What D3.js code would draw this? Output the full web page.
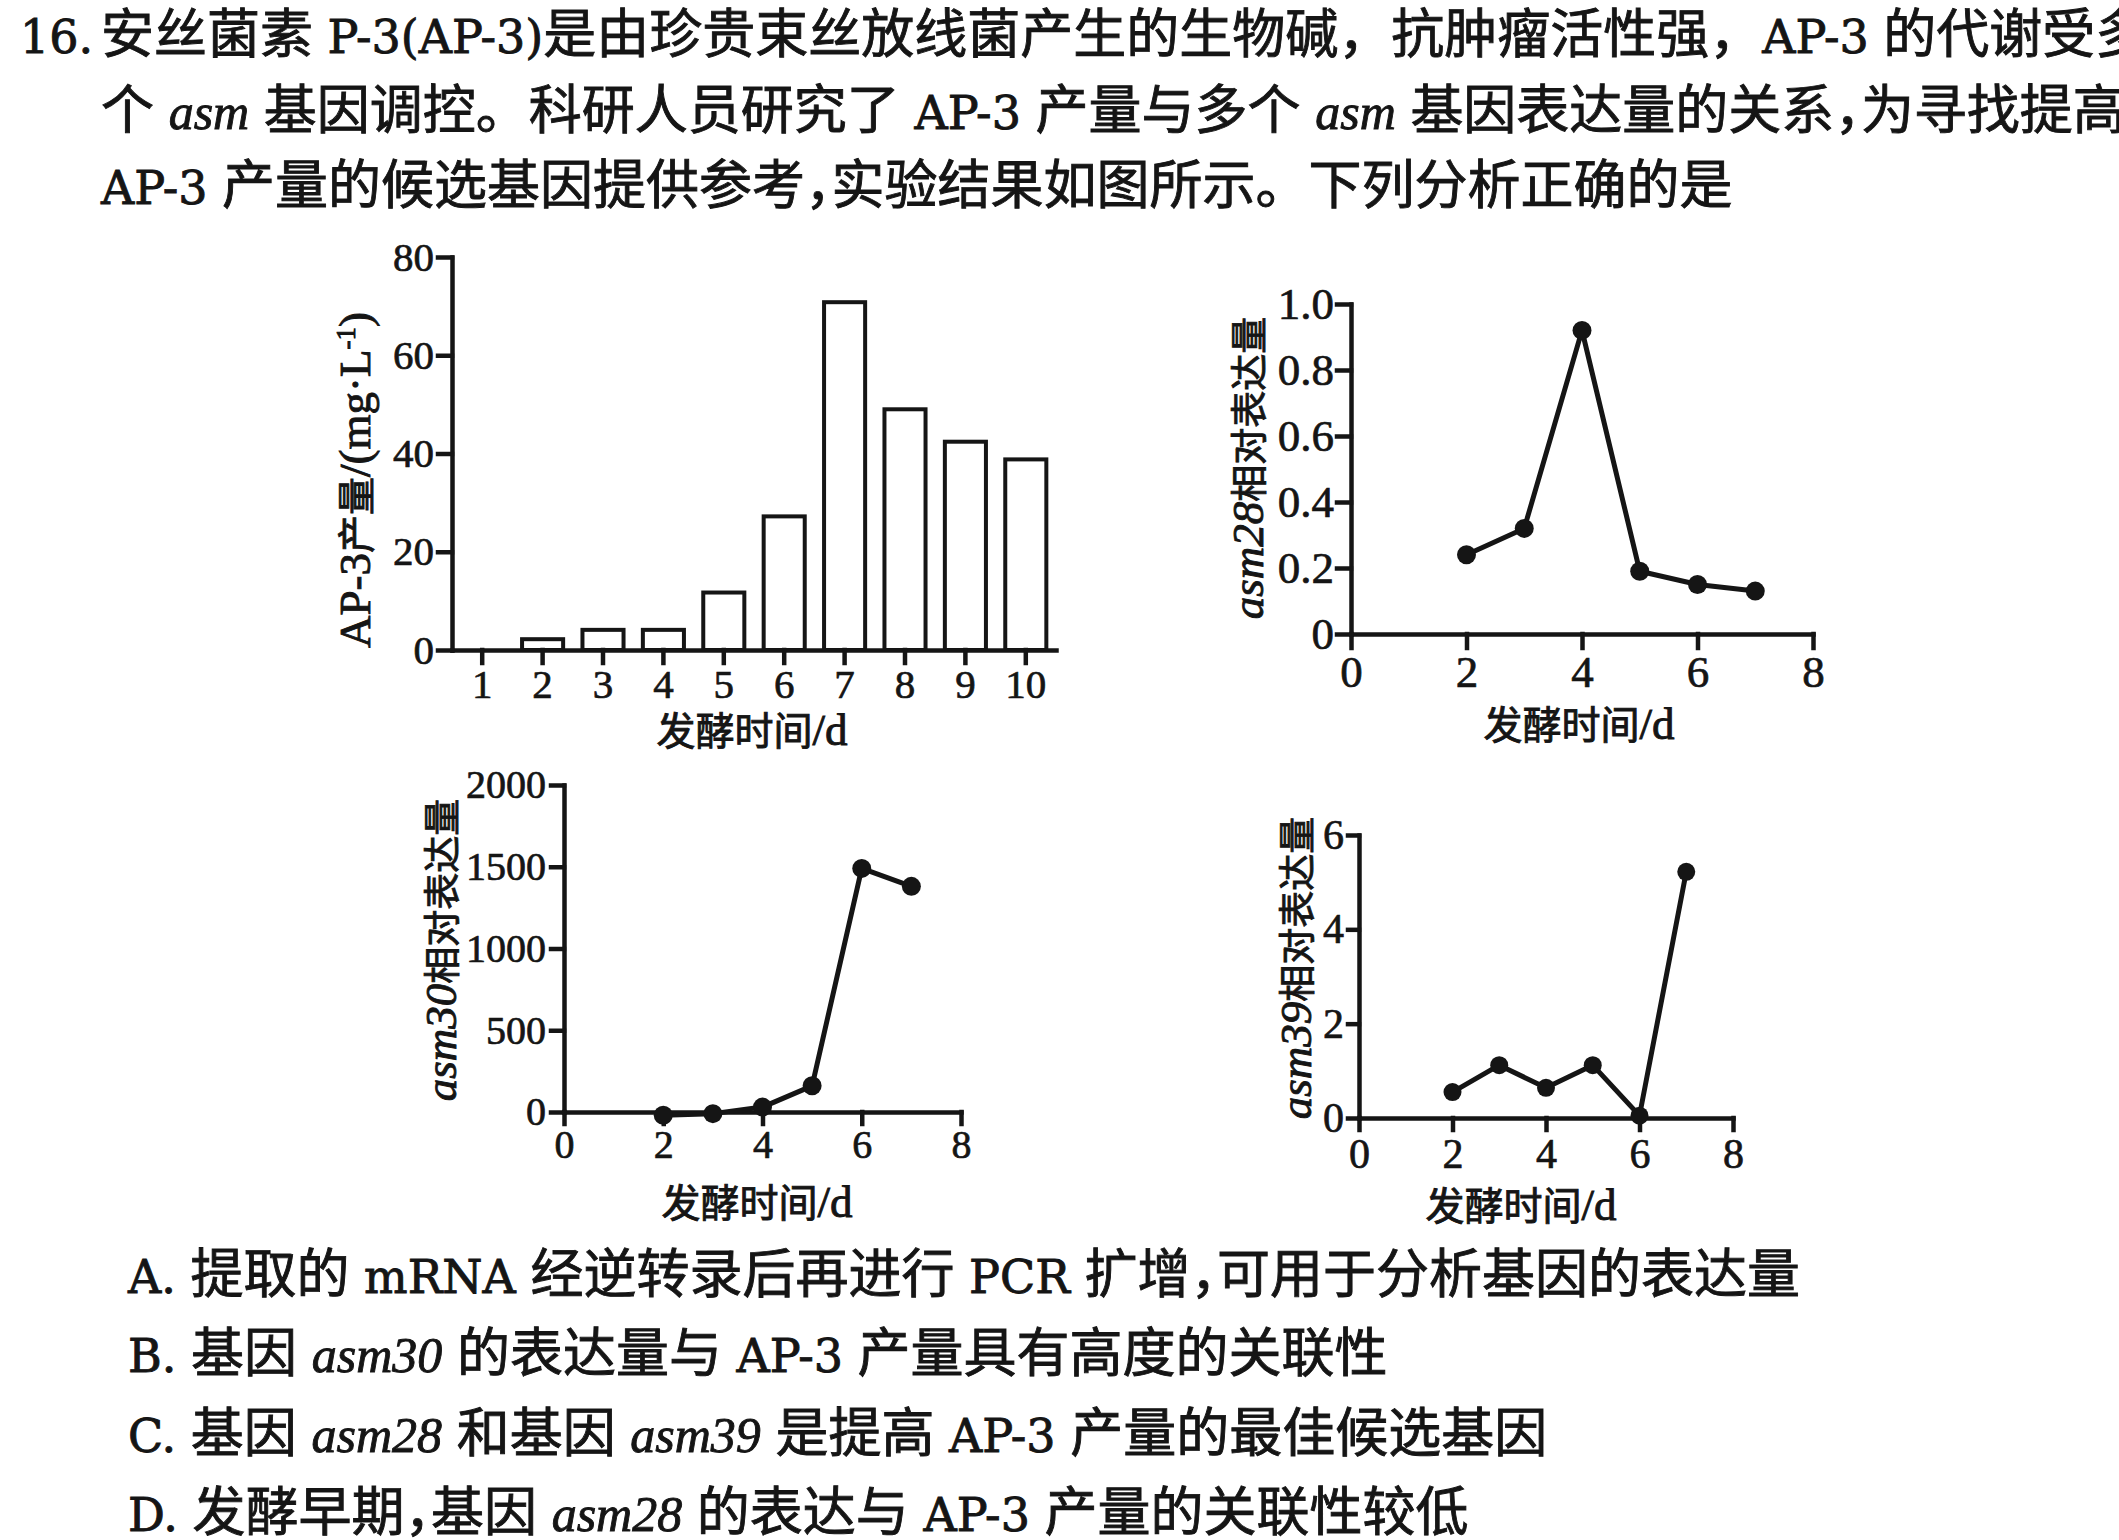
<!DOCTYPE html>
<html><head><meta charset="utf-8">
<script src="https://cdn.jsdelivr.net/npm/d3@7"></script>
<style>
html,body{margin:0;padding:0;background:#fff;}
svg{display:block;}
.axis path,.axis line{stroke:#151515;stroke-width:4.5px;stroke-linecap:square;}
.axis text{fill:#151515;stroke:#151515;stroke-width:0.7px;}
text.heavy{stroke:#151515;stroke-width:0.9px;}
</style></head><body>
<svg id="fig" width="2119" height="1540"></svg>
<script>
// ---------- data ----------
const barDays = ["1","2","3","4","5","6","7","8","9","10"];
const ap3Yield = [0, 2.2, 4.1, 4.1, 11.7, 27.2, 70.8, 49.0, 42.4, 38.8];
const barYTicks = [0, 20, 40, 60, 80];

const lineDays = [2, 3, 4, 5, 6, 7];
const asm28Expr = [0.24, 0.32, 0.92, 0.19, 0.15, 0.13];
const asm30Expr = [-20, -10, 30, 160, 1490, 1380];
const asm39Expr = [0.55, 1.12, 0.64, 1.12, 0.05, 5.22];
const lineXTicks = [0, 2, 4, 6, 8];
const asm28YTicks = [0, 0.2, 0.4, 0.6, 0.8, 1.0];
const asm28YTickLabels = ["0", "0.2", "0.4", "0.6", "0.8", "1.0"];
const asm30YTicks = [0, 500, 1000, 1500, 2000];
const asm39YTicks = [0, 2, 4, 6];

const xLabelText = "发酵时间/d";
const questionNo = "16.";
const questionLines = [
  "安丝菌素 P-3(AP-3)是由珍贵束丝放线菌产生的生物碱，抗肿瘤活性强，AP-3 的代谢受多",
  "个 *asm* 基因调控。科研人员研究了 AP-3 产量与多个 *asm* 基因表达量的关系，为寻找提高",
  "AP-3 产量的候选基因提供参考，实验结果如图所示。下列分析正确的是"
];
const optionLines = [
  "A. 提取的 mRNA 经逆转录后再进行 PCR 扩增，可用于分析基因的表达量",
  "B. 基因 *asm30* 的表达量与 AP-3 产量具有高度的关联性",
  "C. 基因 *asm28* 和基因 *asm39* 是提高 AP-3 产量的最佳候选基因",
  "D. 发酵早期，基因 *asm28* 的表达与 AP-3 产量的关联性较低"
];

// ---------- helpers ----------
const INK = "#151515";
const CJK_FONT = "'Noto Sans CJK SC'";
const svg = d3.select("#fig");

function isCJK(ch){ return /[\u3000-\u303F\u4E00-\u9FFF\uFF00-\uFFEF]/.test(ch); }

// builds tspans: CJK runs in CJK font, latin in serif font; *..* = italic
function rich(textSel, str, o){
  let italic = false, runs = [], cur = null;
  for (const ch of str){
    if (ch === "*"){ italic = !italic; cur = null; continue; }
    const cls = isCJK(ch) ? (ch === "，" ? "comma" : "cjk") : "lat";
    if (!cur || cur.cls !== cls || cur.italic !== italic){
      cur = {cls, italic, s: ""}; runs.push(cur);
    }
    cur.s += ch;
  }
  runs.forEach(r => {
    const t = textSel.append("tspan").text(r.s);
    if (r.cls === "lat"){
      if (r.italic){
        t.attr("font-family", o.itFont).attr("font-size", o.itSize).attr("font-style", "italic");
      } else {
        t.attr("font-family", o.latFont).attr("font-size", o.latSize);
      }
    } else {
      t.attr("font-family", CJK_FONT).attr("font-size", o.cjkSize);
      if (r.cls === "comma" && o.halt) t.style("font-feature-settings", "'halt'");
    }
  });
  return textSel;
}

// ---------- question text ----------
const bodyOpt = {latFont: "'DejaVu Serif'", latSize: 46, itFont: "'Liberation Serif'", itSize: 50, cjkSize: 53, halt: true};
const qBase = [53, 129, 204];
svg.append("text").attr("class", "heavy").attr("x", 20).attr("y", qBase[0]).attr("fill", INK)
  .attr("font-family", "'DejaVu Serif'").attr("font-size", 46).text(questionNo);
questionLines.forEach((s, i) => {
  rich(svg.append("text").attr("class", "heavy").attr("x", 101).attr("y", qBase[i]).attr("fill", INK), s,
    i === 0 ? Object.assign({}, bodyOpt, {halt: false}) : bodyOpt);
});
const oBase = [1293, 1372, 1452, 1531];
optionLines.forEach((s, i) => {
  rich(svg.append("text").attr("class", "heavy").attr("x", 128).attr("y", oBase[i]).attr("fill", INK), s, bodyOpt);
});

// ---------- axis styling ----------
function styleAxis(g, size){
  g.attr("class", "axis").attr("font-family", "'Liberation Serif'").attr("font-size", size);
  g.selectAll("text").attr("fill", INK);
}
function yLabel(cx, cy, build){
  const t = svg.append("text").attr("class", "heavy").attr("transform", `translate(${cx},${cy}) rotate(-90)`)
    .attr("text-anchor", "middle").attr("dy", "0.36em").attr("fill", INK);
  build(t);
}
function xLabel(cx, baseY){
  const t = svg.append("text").attr("class", "heavy").attr("x", cx).attr("y", baseY)
    .attr("text-anchor", "middle").attr("fill", INK);
  rich(t, xLabelText, {latFont: "'Liberation Serif'", latSize: 45, itFont: "'Liberation Serif'", itSize: 45, cjkSize: 39});
}

// ---------- bar chart ----------
(function(){
  const x = d3.scaleBand().domain(barDays).range([452, 1056]).paddingInner(0.32).paddingOuter(0.16);
  const y = d3.scaleLinear().domain([0, 80]).range([650, 257]);
  const g = svg.append("g");
  g.selectAll("rect").data(ap3Yield).join("rect")
    .attr("x", (d, i) => x(barDays[i]))
    .attr("width", x.bandwidth())
    .attr("y", d => y(d))
    .attr("height", d => y(0) - y(d))
    .attr("fill", "#fff").attr("stroke", INK).attr("stroke-width", 4);
  const ax = svg.append("g").attr("transform", `translate(0,${y(0)})`)
    .call(d3.axisBottom(x).tickSizeInner(13).tickSizeOuter(0).tickPadding(6));
  styleAxis(ax, 41);
  const ay = svg.append("g").attr("transform", `translate(${x.range()[0]},0)`)
    .call(d3.axisLeft(y).tickValues(barYTicks).tickSizeInner(14).tickSizeOuter(0).tickPadding(4));
  styleAxis(ay, 41);
  yLabel(364, 480, t => {
    t.append("tspan").attr("font-family", "'Liberation Serif'").attr("font-size", 45).text("AP-3");
    t.append("tspan").attr("font-family", CJK_FONT).attr("font-size", 38).text("产量");
    t.append("tspan").attr("font-family", "'Liberation Serif'").attr("font-size", 45).text("/(mg·L");
    t.append("tspan").attr("font-family", "'Liberation Serif'").attr("font-size", 27).attr("dy", "-0.55em").text("-1");
    t.append("tspan").attr("font-family", "'Liberation Serif'").attr("font-size", 45).attr("dy", "0.33em").text(")");
  });
  xLabel(752, 745);
})();

// ---------- line charts ----------
function lineChart(cfg){
  const x = d3.scaleLinear().domain([0, 8]).range(cfg.xr);
  const y = d3.scaleLinear().domain(cfg.yd).range(cfg.yr);
  const ax = svg.append("g").attr("transform", `translate(0,${y(0)})`)
    .call(d3.axisBottom(x).tickValues(lineXTicks).tickFormat(d3.format("d"))
      .tickSizeInner(cfg.xTick).tickSizeOuter(0).tickPadding(cfg.xPad));
  styleAxis(ax, cfg.font);
  const ay = svg.append("g").attr("transform", `translate(${x(0)},0)`)
    .call(d3.axisLeft(y).tickValues(cfg.yTicks)
      .tickFormat((d, i) => cfg.yLabels ? cfg.yLabels[i] : d3.format("d")(d))
      .tickSizeInner(cfg.yTick).tickSizeOuter(0).tickPadding(cfg.yPad));
  styleAxis(ay, cfg.font);
  const line = d3.line().x((d, i) => x(lineDays[i])).y(d => y(d));
  svg.append("path").datum(cfg.values).attr("d", line)
    .attr("fill", "none").attr("stroke", INK).attr("stroke-width", 5).attr("stroke-linejoin", "round");
  svg.append("g").selectAll("circle").data(cfg.values).join("circle")
    .attr("cx", (d, i) => x(lineDays[i])).attr("cy", d => y(d)).attr("r", cfg.r).attr("fill", INK);
  yLabel(cfg.ylx, cfg.yly, t => {
    t.append("tspan").attr("font-family", "'Liberation Serif'").attr("font-style", "italic")
      .attr("font-size", 45).text(cfg.gene);
    t.append("tspan").attr("font-family", CJK_FONT).attr("font-size", 37).text("相对表达量");
  });
  xLabel(cfg.xlx, cfg.xly);
}

lineChart({gene: "asm28", values: asm28Expr, xr: [1351, 1813], yd: [0, 1], yr: [634, 304],
  yTicks: asm28YTicks, yLabels: asm28YTickLabels, font: 45, xTick: 14, xPad: 7, yTick: 14, yPad: 3,
  r: 9.5, ylx: 1257, yly: 468, xlx: 1579, xly: 739});
lineChart({gene: "asm30", values: asm30Expr, xr: [564, 961], yd: [0, 2000], yr: [1112, 785],
  yTicks: asm30YTicks, font: 40, xTick: 12, xPad: 6, yTick: 13, yPad: 5,
  r: 9.5, ylx: 450, yly: 950, xlx: 757, xly: 1217});
lineChart({gene: "asm39", values: asm39Expr, xr: [1359, 1733], yd: [0, 6], yr: [1118, 835],
  yTicks: asm39YTicks, font: 42, xTick: 12, xPad: 8, yTick: 11, yPad: 4,
  r: 9, ylx: 1305, yly: 968, xlx: 1521, xly: 1220});
</script>
</body></html>
